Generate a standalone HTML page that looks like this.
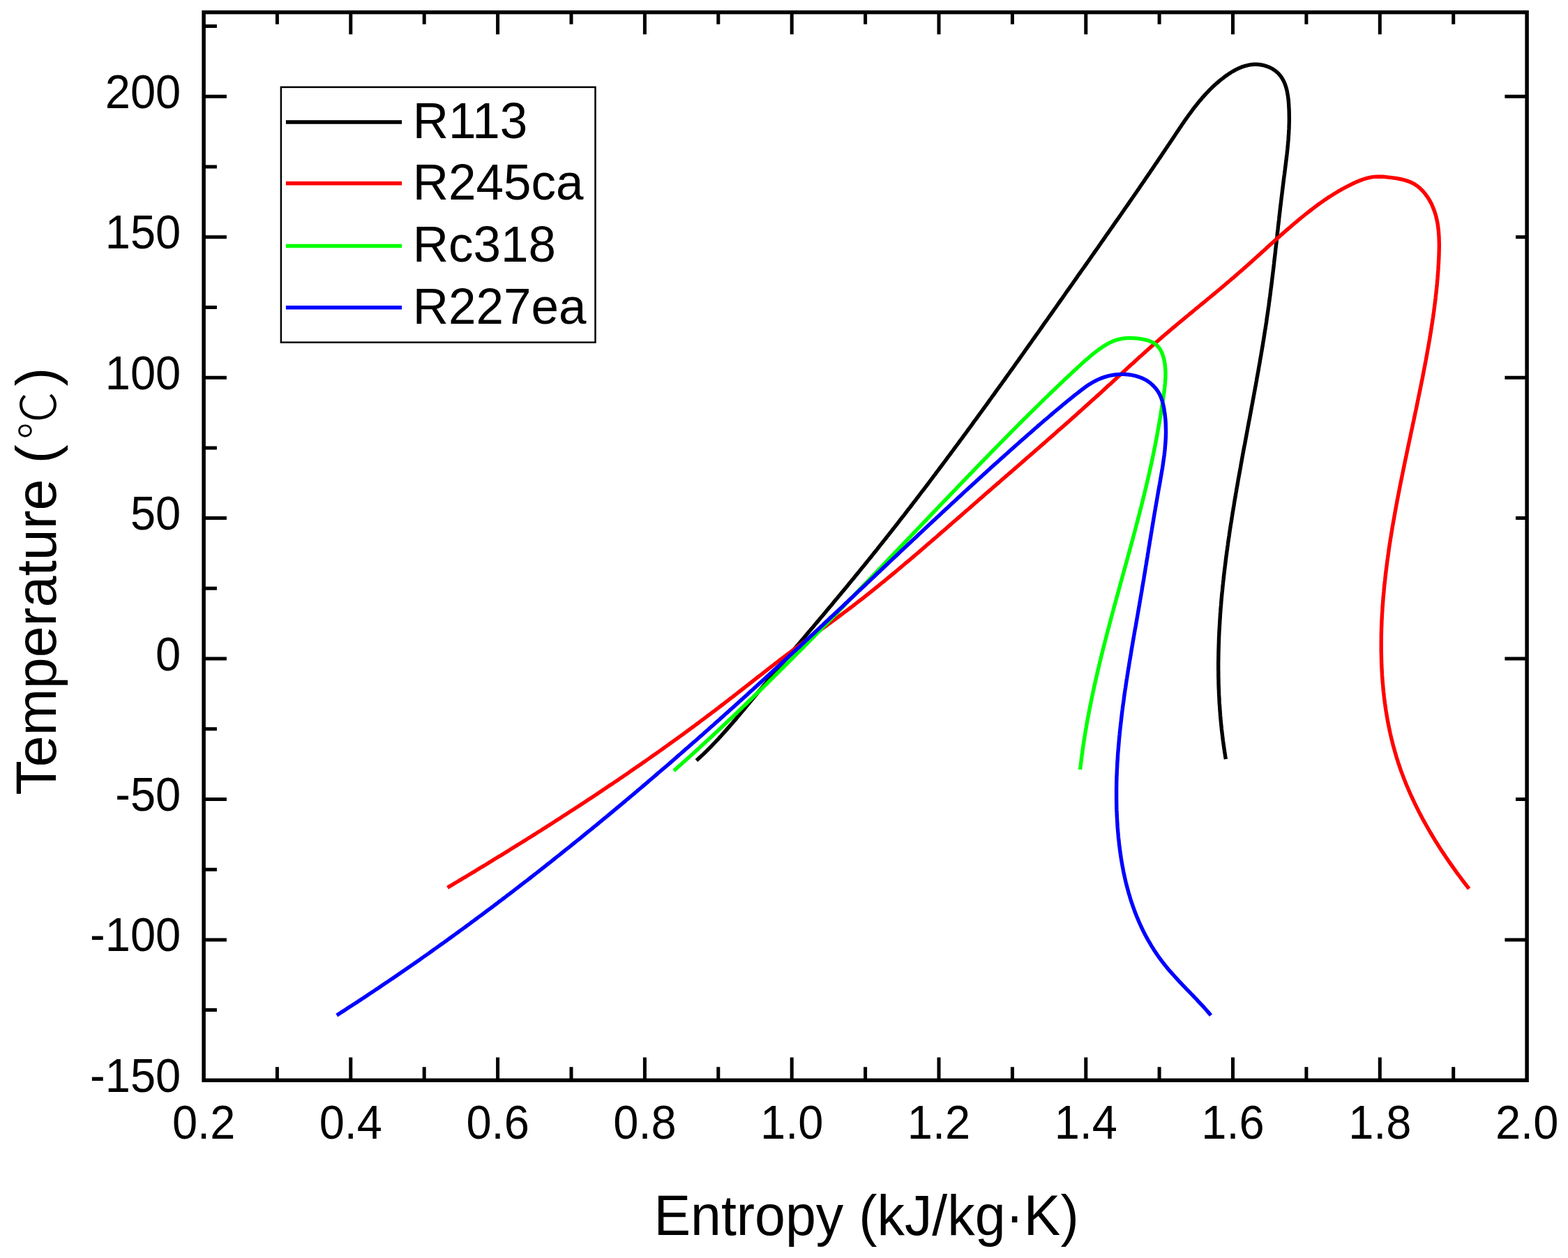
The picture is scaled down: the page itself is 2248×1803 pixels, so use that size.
<!DOCTYPE html><html><head><meta charset="utf-8"><title>T-s diagram</title><style>html,body{margin:0;padding:0;background:#fff;}svg{display:block;}</style></head><body>
<svg width="2248" height="1803" viewBox="0 0 2248 1803">
<rect width="2248" height="1803" fill="#fff"/>
<g fill="none" stroke-width="5.4" stroke-linejoin="round" stroke-linecap="butt">
<path d="M998.4 1090.0 L1000.9 1087.8 L1003.3 1085.5 L1005.8 1083.2 L1008.2 1081.0 L1010.6 1078.7 L1013.0 1076.3 L1015.4 1074.0 L1017.7 1071.6 L1020.0 1069.3 L1022.3 1066.9 L1024.6 1064.5 L1026.9 1062.1 L1029.2 1059.7 L1031.4 1057.2 L1033.7 1054.8 L1035.9 1052.3 L1038.1 1049.9 L1040.3 1047.4 L1042.5 1044.9 L1044.7 1042.4 L1046.9 1039.9 L1049.1 1037.4 L1051.2 1034.9 L1053.4 1032.4 L1055.5 1029.9 L1057.7 1027.3 L1059.8 1024.8 L1061.9 1022.3 L1064.0 1019.7 L1066.2 1017.2 L1068.3 1014.6 L1070.4 1012.1 L1072.5 1009.5 L1074.6 1007.0 L1076.7 1004.4 L1078.9 1001.9 L1081.0 999.3 L1083.1 996.7 L1085.2 994.2 L1087.3 991.6 L1089.5 989.1 L1091.6 986.5 L1093.7 984.0 L1095.8 981.5 L1098.0 978.9 L1100.1 976.4 L1102.2 973.8 L1104.3 971.3 L1106.5 968.7 L1108.6 966.2 L1110.7 963.6 L1112.9 961.1 L1115.0 958.6 L1117.1 956.0 L1119.3 953.5 L1121.4 951.0 L1123.6 948.4 L1125.7 945.9 L1127.8 943.3 L1130.0 940.8 L1132.1 938.3 L1134.3 935.7 L1136.4 933.2 L1138.5 930.7 L1140.7 928.1 L1142.8 925.6 L1145.0 923.0 L1147.1 920.5 L1149.2 918.0 L1151.4 915.4 L1153.5 912.9 L1155.7 910.4 L1157.8 907.8 L1159.9 905.3 L1162.1 902.8 L1164.2 900.2 L1166.4 897.7 L1168.5 895.1 L1170.6 892.6 L1172.8 890.1 L1174.9 887.5 L1177.0 885.0 L1179.2 882.4 L1181.3 879.9 L1183.4 877.4 L1185.6 874.8 L1187.7 872.3 L1189.8 869.7 L1192.0 867.2 L1194.1 864.6 L1196.2 862.1 L1198.3 859.5 L1200.5 857.0 L1202.6 854.4 L1204.7 851.9 L1206.8 849.3 L1209.0 846.8 L1211.1 844.2 L1213.2 841.7 L1215.3 839.1 L1217.4 836.5 L1219.5 834.0 L1221.6 831.4 L1223.7 828.9 L1225.8 826.3 L1227.9 823.7 L1230.0 821.2 L1232.1 818.6 L1234.2 816.0 L1236.3 813.4 L1238.4 810.9 L1240.5 808.3 L1242.6 805.7 L1244.7 803.1 L1246.8 800.6 L1248.9 798.0 L1250.9 795.4 L1253.0 792.8 L1255.1 790.2 L1257.2 787.6 L1259.2 785.0 L1261.3 782.4 L1263.4 779.8 L1265.4 777.2 L1267.5 774.6 L1269.6 772.0 L1271.6 769.4 L1273.7 766.8 L1275.7 764.2 L1277.8 761.6 L1279.8 759.0 L1281.9 756.4 L1283.9 753.8 L1286.0 751.2 L1288.0 748.6 L1290.0 745.9 L1292.1 743.3 L1294.1 740.7 L1296.2 738.1 L1298.2 735.5 L1300.2 732.8 L1302.2 730.2 L1304.3 727.6 L1306.3 725.0 L1308.3 722.3 L1310.3 719.7 L1312.4 717.1 L1314.4 714.4 L1316.4 711.8 L1318.4 709.2 L1320.4 706.5 L1322.4 703.9 L1324.4 701.3 L1326.5 698.6 L1328.5 696.0 L1330.5 693.3 L1332.5 690.7 L1334.5 688.0 L1336.5 685.4 L1338.5 682.7 L1340.5 680.1 L1342.4 677.4 L1344.4 674.8 L1346.4 672.1 L1348.4 669.5 L1350.4 666.8 L1352.4 664.2 L1354.4 661.5 L1356.4 658.8 L1358.3 656.2 L1360.3 653.5 L1362.3 650.8 L1364.3 648.2 L1366.3 645.5 L1368.2 642.9 L1370.2 640.2 L1372.2 637.5 L1374.2 634.8 L1376.1 632.2 L1378.1 629.5 L1380.1 626.8 L1382.0 624.2 L1384.0 621.5 L1386.0 618.8 L1387.9 616.1 L1389.9 613.5 L1391.8 610.8 L1393.8 608.1 L1395.7 605.4 L1397.7 602.7 L1399.7 600.1 L1401.6 597.4 L1403.6 594.7 L1405.5 592.0 L1407.5 589.3 L1409.4 586.6 L1411.4 584.0 L1413.3 581.3 L1415.3 578.6 L1417.2 575.9 L1419.1 573.2 L1421.1 570.5 L1423.0 567.8 L1425.0 565.1 L1426.9 562.4 L1428.9 559.7 L1430.8 557.0 L1432.7 554.4 L1434.7 551.7 L1436.6 549.0 L1438.5 546.3 L1440.5 543.6 L1442.4 540.9 L1444.3 538.2 L1446.3 535.5 L1448.2 532.8 L1450.1 530.1 L1452.1 527.4 L1454.0 524.7 L1455.9 522.0 L1457.8 519.3 L1459.8 516.6 L1461.7 513.9 L1463.6 511.2 L1465.5 508.5 L1467.5 505.8 L1469.4 503.0 L1471.3 500.3 L1473.2 497.6 L1475.1 494.9 L1477.1 492.2 L1479.0 489.5 L1480.9 486.8 L1482.8 484.1 L1484.7 481.4 L1486.7 478.7 L1488.6 476.0 L1490.5 473.3 L1492.4 470.6 L1494.3 467.9 L1496.2 465.1 L1498.1 462.4 L1500.1 459.7 L1502.0 457.0 L1503.9 454.3 L1505.8 451.6 L1507.7 448.9 L1509.6 446.2 L1511.5 443.5 L1513.5 440.7 L1515.4 438.0 L1517.3 435.3 L1519.2 432.6 L1521.1 429.9 L1523.0 427.2 L1524.9 424.5 L1526.8 421.8 L1528.7 419.0 L1530.6 416.3 L1532.6 413.6 L1534.5 410.9 L1536.4 408.2 L1538.3 405.5 L1540.2 402.8 L1542.1 400.1 L1544.0 397.4 L1545.9 394.6 L1547.8 391.9 L1549.7 389.2 L1551.6 386.5 L1553.6 383.8 L1555.5 381.1 L1557.4 378.4 L1559.3 375.7 L1561.2 372.9 L1563.1 370.2 L1565.0 367.5 L1566.9 364.8 L1568.8 362.1 L1570.7 359.4 L1572.6 356.7 L1574.5 353.9 L1576.4 351.2 L1578.3 348.5 L1580.2 345.8 L1582.1 343.1 L1584.0 340.4 L1585.9 337.6 L1587.8 334.9 L1589.7 332.2 L1591.6 329.5 L1593.5 326.8 L1595.4 324.1 L1597.3 321.3 L1599.2 318.6 L1601.1 315.9 L1603.0 313.2 L1604.9 310.4 L1606.8 307.7 L1608.7 305.0 L1610.6 302.3 L1612.5 299.5 L1614.4 296.8 L1616.3 294.1 L1618.2 291.4 L1620.1 288.6 L1621.9 285.9 L1623.8 283.2 L1625.7 280.4 L1627.6 277.7 L1629.5 275.0 L1631.4 272.2 L1633.3 269.5 L1635.1 266.8 L1637.0 264.0 L1638.9 261.3 L1640.8 258.6 L1642.6 255.8 L1644.5 253.1 L1646.4 250.3 L1648.3 247.6 L1650.1 244.8 L1652.0 242.1 L1653.9 239.3 L1655.7 236.6 L1657.6 233.8 L1659.5 231.1 L1661.3 228.3 L1663.2 225.6 L1665.1 222.8 L1666.9 220.1 L1668.8 217.3 L1670.6 214.5 L1672.5 211.8 L1674.3 209.0 L1676.2 206.3 L1678.0 203.5 L1679.9 200.7 L1681.7 198.0 L1683.6 195.2 L1685.4 192.4 L1687.3 189.6 L1689.1 186.9 L1691.0 184.1 L1692.8 181.4 L1694.7 178.6 L1696.6 175.9 L1698.5 173.1 L1700.4 170.4 L1702.3 167.7 L1704.2 165.0 L1706.2 162.3 L1708.2 159.7 L1710.1 157.0 L1712.1 154.4 L1714.2 151.8 L1716.2 149.2 L1718.3 146.6 L1720.4 144.1 L1722.6 141.6 L1724.7 139.1 L1726.9 136.6 L1729.1 134.2 L1731.4 131.8 L1733.7 129.4 L1736.0 127.1 L1738.4 124.8 L1740.8 122.5 L1743.3 120.3 L1745.8 118.1 L1748.3 115.9 L1750.9 113.8 L1753.6 111.8 L1756.2 109.7 L1759.0 107.8 L1761.7 105.9 L1764.6 104.0 L1767.4 102.3 L1770.4 100.6 L1773.3 99.1 L1776.3 97.7 L1779.4 96.4 L1782.4 95.3 L1785.6 94.3 L1788.7 93.6 L1791.9 92.9 L1795.1 92.5 L1798.4 92.3 L1801.7 92.3 L1805.0 92.5 L1808.3 93.0 L1811.6 93.7 L1814.9 94.6 L1818.1 95.7 L1821.2 97.0 L1824.1 98.6 L1826.9 100.4 L1829.5 102.4 L1832.0 104.5 L1834.2 106.9 L1836.2 109.4 L1838.0 112.0 L1839.6 114.8 L1841.0 117.6 L1842.2 120.6 L1843.3 123.7 L1844.3 126.9 L1845.1 130.1 L1845.7 133.4 L1846.3 136.8 L1846.8 140.2 L1847.2 143.6 L1847.5 147.1 L1847.7 150.5 L1847.9 154.0 L1848.1 157.4 L1848.2 160.8 L1848.2 164.2 L1848.3 167.6 L1848.3 171.0 L1848.3 174.4 L1848.2 177.7 L1848.1 181.1 L1848.0 184.4 L1847.8 187.7 L1847.7 191.0 L1847.4 194.3 L1847.2 197.6 L1847.0 200.9 L1846.7 204.2 L1846.4 207.4 L1846.1 210.7 L1845.8 214.0 L1845.4 217.2 L1845.1 220.5 L1844.7 223.7 L1844.3 227.0 L1843.9 230.2 L1843.5 233.4 L1843.1 236.7 L1842.7 239.9 L1842.3 243.2 L1841.9 246.4 L1841.5 249.6 L1841.0 252.9 L1840.6 256.1 L1840.2 259.4 L1839.8 262.6 L1839.4 265.9 L1839.0 269.1 L1838.6 272.4 L1838.2 275.7 L1837.8 278.9 L1837.4 282.2 L1837.0 285.5 L1836.6 288.8 L1836.2 292.1 L1835.8 295.3 L1835.4 298.6 L1835.1 301.9 L1834.7 305.2 L1834.3 308.5 L1833.9 311.8 L1833.6 315.1 L1833.2 318.4 L1832.8 321.7 L1832.4 325.0 L1832.1 328.3 L1831.7 331.6 L1831.3 334.9 L1831.0 338.3 L1830.6 341.6 L1830.2 344.9 L1829.9 348.2 L1829.5 351.5 L1829.1 354.8 L1828.7 358.1 L1828.4 361.4 L1828.0 364.8 L1827.6 368.1 L1827.2 371.4 L1826.8 374.7 L1826.5 378.0 L1826.1 381.4 L1825.7 384.7 L1825.3 388.0 L1824.9 391.3 L1824.5 394.6 L1824.1 397.9 L1823.7 401.2 L1823.3 404.6 L1822.9 407.9 L1822.5 411.2 L1822.0 414.5 L1821.6 417.8 L1821.2 421.1 L1820.8 424.4 L1820.3 427.7 L1819.9 431.0 L1819.4 434.3 L1819.0 437.6 L1818.5 440.9 L1818.1 444.2 L1817.6 447.5 L1817.1 450.7 L1816.6 454.0 L1816.1 457.3 L1815.7 460.6 L1815.2 463.9 L1814.7 467.1 L1814.2 470.4 L1813.6 473.7 L1813.1 477.0 L1812.6 480.2 L1812.1 483.5 L1811.6 486.8 L1811.0 490.0 L1810.5 493.3 L1810.0 496.6 L1809.4 499.8 L1808.9 503.1 L1808.3 506.3 L1807.8 509.6 L1807.2 512.8 L1806.6 516.1 L1806.1 519.4 L1805.5 522.6 L1804.9 525.9 L1804.4 529.1 L1803.8 532.4 L1803.2 535.6 L1802.6 538.9 L1802.0 542.1 L1801.5 545.4 L1800.9 548.6 L1800.3 551.9 L1799.7 555.1 L1799.1 558.4 L1798.5 561.6 L1797.9 564.9 L1797.3 568.1 L1796.7 571.4 L1796.1 574.6 L1795.5 577.9 L1794.9 581.1 L1794.3 584.4 L1793.7 587.6 L1793.1 590.9 L1792.5 594.1 L1791.9 597.4 L1791.3 600.6 L1790.6 603.9 L1790.0 607.2 L1789.4 610.4 L1788.8 613.7 L1788.2 616.9 L1787.6 620.2 L1787.0 623.5 L1786.4 626.7 L1785.8 630.0 L1785.2 633.2 L1784.6 636.5 L1783.9 639.8 L1783.3 643.0 L1782.7 646.3 L1782.1 649.6 L1781.5 652.8 L1780.9 656.1 L1780.3 659.4 L1779.7 662.7 L1779.1 665.9 L1778.6 669.2 L1778.0 672.5 L1777.4 675.7 L1776.8 679.0 L1776.2 682.3 L1775.6 685.6 L1775.0 688.8 L1774.5 692.1 L1773.9 695.4 L1773.3 698.7 L1772.7 702.0 L1772.2 705.2 L1771.6 708.5 L1771.1 711.8 L1770.5 715.1 L1769.9 718.4 L1769.4 721.6 L1768.9 724.9 L1768.3 728.2 L1767.8 731.5 L1767.2 734.8 L1766.7 738.1 L1766.2 741.3 L1765.7 744.6 L1765.2 747.9 L1764.6 751.2 L1764.1 754.5 L1763.6 757.8 L1763.1 761.1 L1762.6 764.4 L1762.2 767.6 L1761.7 770.9 L1761.2 774.2 L1760.7 777.5 L1760.3 780.8 L1759.8 784.1 L1759.4 787.4 L1758.9 790.7 L1758.5 794.0 L1758.0 797.3 L1757.6 800.6 L1757.2 803.9 L1756.8 807.2 L1756.4 810.5 L1756.0 813.8 L1755.6 817.0 L1755.2 820.3 L1754.8 823.6 L1754.4 826.9 L1754.1 830.2 L1753.7 833.5 L1753.4 836.8 L1753.0 840.1 L1752.7 843.4 L1752.4 846.7 L1752.0 850.0 L1751.7 853.3 L1751.4 856.6 L1751.1 859.9 L1750.8 863.2 L1750.6 866.5 L1750.3 869.8 L1750.0 873.1 L1749.8 876.4 L1749.5 879.7 L1749.3 883.0 L1749.1 886.4 L1748.9 889.7 L1748.7 893.0 L1748.5 896.3 L1748.3 899.6 L1748.1 902.9 L1747.9 906.2 L1747.8 909.5 L1747.6 912.8 L1747.5 916.1 L1747.4 919.4 L1747.3 922.7 L1747.2 926.0 L1747.1 929.3 L1747.0 932.6 L1746.9 935.9 L1746.9 939.2 L1746.8 942.5 L1746.8 945.8 L1746.7 949.1 L1746.7 952.5 L1746.7 955.8 L1746.7 959.1 L1746.8 962.4 L1746.8 965.7 L1746.8 969.0 L1746.9 972.3 L1747.0 975.6 L1747.0 978.9 L1747.1 982.2 L1747.2 985.5 L1747.4 988.8 L1747.5 992.1 L1747.6 995.4 L1747.8 998.7 L1748.0 1002.1 L1748.1 1005.4 L1748.3 1008.7 L1748.6 1012.0 L1748.8 1015.3 L1749.0 1018.6 L1749.3 1021.9 L1749.5 1025.2 L1749.8 1028.5 L1750.1 1031.8 L1750.4 1035.1 L1750.7 1038.4 L1751.1 1041.7 L1751.4 1045.0 L1751.8 1048.3 L1752.2 1051.7 L1752.6 1055.0 L1753.0 1058.3 L1753.4 1061.6 L1753.9 1064.9 L1754.3 1068.2 L1754.8 1071.5 L1755.3 1074.8 L1755.8 1078.1 L1756.3 1081.4 L1756.8 1084.7 L1757.4 1088.0" stroke="#000"/>
<path d="M641.5 1272.2 L644.9 1270.1 L648.4 1268.1 L651.8 1266.0 L655.2 1264.0 L658.7 1261.9 L662.1 1259.9 L665.5 1257.8 L669.0 1255.8 L672.4 1253.7 L675.8 1251.6 L679.3 1249.6 L682.7 1247.5 L686.1 1245.4 L689.5 1243.3 L692.9 1241.3 L696.4 1239.2 L699.8 1237.1 L703.2 1235.0 L706.6 1232.9 L710.0 1230.8 L713.4 1228.7 L716.9 1226.7 L720.3 1224.6 L723.7 1222.5 L727.1 1220.4 L730.5 1218.3 L733.9 1216.1 L737.3 1214.0 L740.7 1211.9 L744.1 1209.8 L747.5 1207.7 L750.9 1205.6 L754.3 1203.5 L757.7 1201.3 L761.1 1199.2 L764.4 1197.1 L767.8 1194.9 L771.2 1192.8 L774.6 1190.7 L778.0 1188.5 L781.4 1186.4 L784.7 1184.2 L788.1 1182.1 L791.5 1179.9 L794.9 1177.8 L798.2 1175.6 L801.6 1173.5 L805.0 1171.3 L808.3 1169.1 L811.7 1166.9 L815.0 1164.8 L818.4 1162.6 L821.7 1160.4 L825.1 1158.2 L828.5 1156.0 L831.8 1153.9 L835.1 1151.7 L838.5 1149.5 L841.8 1147.3 L845.2 1145.1 L848.5 1142.9 L851.8 1140.7 L855.2 1138.4 L858.5 1136.2 L861.8 1134.0 L865.2 1131.8 L868.5 1129.6 L871.8 1127.3 L875.1 1125.1 L878.5 1122.9 L881.8 1120.6 L885.1 1118.4 L888.4 1116.1 L891.7 1113.9 L895.0 1111.6 L898.3 1109.4 L901.6 1107.1 L904.9 1104.8 L908.2 1102.6 L911.5 1100.3 L914.8 1098.0 L918.1 1095.8 L921.3 1093.5 L924.6 1091.2 L927.9 1088.9 L931.2 1086.6 L934.4 1084.3 L937.7 1082.0 L941.0 1079.7 L944.3 1077.4 L947.5 1075.1 L950.8 1072.7 L954.0 1070.4 L957.3 1068.1 L960.5 1065.8 L963.8 1063.4 L967.0 1061.1 L970.3 1058.8 L973.5 1056.4 L976.7 1054.1 L980.0 1051.7 L983.2 1049.3 L986.4 1047.0 L989.6 1044.6 L992.9 1042.2 L996.1 1039.9 L999.3 1037.5 L1002.5 1035.1 L1005.7 1032.7 L1008.9 1030.3 L1012.1 1027.9 L1015.3 1025.5 L1018.5 1023.1 L1021.7 1020.7 L1024.9 1018.3 L1028.1 1015.9 L1031.3 1013.4 L1034.4 1011.0 L1037.6 1008.6 L1040.8 1006.1 L1044.0 1003.7 L1047.1 1001.2 L1050.3 998.8 L1053.4 996.3 L1056.6 993.9 L1059.8 991.4 L1062.9 989.0 L1066.1 986.5 L1069.2 984.0 L1072.4 981.6 L1075.5 979.1 L1078.7 976.6 L1081.8 974.2 L1085.0 971.7 L1088.1 969.2 L1091.3 966.8 L1094.4 964.3 L1097.6 961.9 L1100.7 959.4 L1103.9 956.9 L1107.1 954.5 L1110.2 952.0 L1113.4 949.6 L1116.6 947.2 L1119.7 944.7 L1122.9 942.3 L1126.1 939.9 L1129.3 937.5 L1132.5 935.1 L1135.7 932.6 L1138.9 930.3 L1142.1 927.9 L1145.3 925.5 L1148.5 923.1 L1151.7 920.7 L1155.0 918.4 L1158.2 916.0 L1161.4 913.7 L1164.7 911.3 L1167.9 909.0 L1171.1 906.6 L1174.4 904.3 L1177.6 901.9 L1180.8 899.6 L1184.1 897.2 L1187.3 894.9 L1190.5 892.5 L1193.8 890.1 L1197.0 887.8 L1200.2 885.4 L1203.4 883.0 L1206.6 880.6 L1209.8 878.2 L1213.0 875.8 L1216.2 873.4 L1219.4 871.0 L1222.6 868.6 L1225.7 866.1 L1228.9 863.7 L1232.1 861.2 L1235.2 858.8 L1238.4 856.3 L1241.5 853.8 L1244.6 851.4 L1247.8 848.9 L1250.9 846.4 L1254.0 843.9 L1257.1 841.4 L1260.2 838.9 L1263.3 836.3 L1266.4 833.8 L1269.5 831.3 L1272.6 828.7 L1275.7 826.2 L1278.8 823.6 L1281.9 821.1 L1285.0 818.5 L1288.0 816.0 L1291.1 813.4 L1294.2 810.8 L1297.2 808.2 L1300.3 805.7 L1303.4 803.1 L1306.4 800.5 L1309.5 797.9 L1312.5 795.3 L1315.6 792.7 L1318.6 790.1 L1321.6 787.5 L1324.7 784.9 L1327.7 782.3 L1330.7 779.6 L1333.8 777.0 L1336.8 774.4 L1339.8 771.8 L1342.9 769.2 L1345.9 766.5 L1348.9 763.9 L1351.9 761.3 L1355.0 758.7 L1358.0 756.0 L1361.0 753.4 L1364.0 750.8 L1367.0 748.1 L1370.1 745.5 L1373.1 742.9 L1376.1 740.2 L1379.1 737.6 L1382.1 735.0 L1385.1 732.3 L1388.2 729.7 L1391.2 727.1 L1394.2 724.4 L1397.2 721.8 L1400.2 719.2 L1403.2 716.5 L1406.3 713.9 L1409.3 711.3 L1412.3 708.6 L1415.3 706.0 L1418.3 703.4 L1421.4 700.8 L1424.4 698.1 L1427.4 695.5 L1430.4 692.9 L1433.5 690.3 L1436.5 687.6 L1439.5 685.0 L1442.5 682.4 L1445.5 679.8 L1448.6 677.1 L1451.6 674.5 L1454.6 671.9 L1457.6 669.3 L1460.6 666.7 L1463.7 664.0 L1466.7 661.4 L1469.7 658.8 L1472.7 656.1 L1475.7 653.5 L1478.7 650.9 L1481.8 648.3 L1484.8 645.6 L1487.8 643.0 L1490.8 640.4 L1493.8 637.7 L1496.8 635.1 L1499.8 632.5 L1502.8 629.8 L1505.8 627.2 L1508.8 624.6 L1511.8 621.9 L1514.8 619.3 L1517.8 616.6 L1520.8 614.0 L1523.8 611.4 L1526.8 608.7 L1529.8 606.1 L1532.8 603.4 L1535.8 600.7 L1538.8 598.1 L1541.8 595.4 L1544.8 592.8 L1547.7 590.1 L1550.7 587.5 L1553.7 584.8 L1556.7 582.1 L1559.6 579.4 L1562.6 576.8 L1565.6 574.1 L1568.5 571.4 L1571.5 568.7 L1574.5 566.1 L1577.4 563.4 L1580.4 560.7 L1583.3 558.0 L1586.3 555.3 L1589.2 552.6 L1592.2 549.9 L1595.1 547.2 L1598.1 544.5 L1601.0 541.8 L1603.9 539.1 L1606.9 536.4 L1609.8 533.7 L1612.8 531.0 L1615.7 528.3 L1618.7 525.5 L1621.6 522.8 L1624.6 520.2 L1627.5 517.5 L1630.5 514.8 L1633.4 512.1 L1636.4 509.4 L1639.4 506.7 L1642.4 504.1 L1645.3 501.4 L1648.3 498.7 L1651.3 496.1 L1654.3 493.4 L1657.3 490.8 L1660.4 488.2 L1663.4 485.5 L1666.4 482.9 L1669.5 480.3 L1672.5 477.7 L1675.6 475.1 L1678.6 472.5 L1681.7 469.9 L1684.8 467.4 L1687.8 464.8 L1690.9 462.2 L1694.0 459.7 L1697.1 457.1 L1700.2 454.5 L1703.3 452.0 L1706.4 449.4 L1709.5 446.9 L1712.6 444.3 L1715.6 441.8 L1718.7 439.2 L1721.8 436.7 L1724.9 434.1 L1728.0 431.6 L1731.1 429.0 L1734.2 426.5 L1737.3 423.9 L1740.4 421.4 L1743.5 418.8 L1746.6 416.2 L1749.6 413.7 L1752.7 411.1 L1755.8 408.5 L1758.8 405.9 L1761.9 403.3 L1764.9 400.7 L1768.0 398.2 L1771.0 395.5 L1774.0 392.9 L1777.0 390.3 L1780.0 387.7 L1783.0 385.0 L1786.0 382.4 L1789.0 379.7 L1792.0 377.1 L1794.9 374.4 L1797.9 371.8 L1800.9 369.1 L1803.8 366.4 L1806.8 363.7 L1809.7 361.1 L1812.7 358.4 L1815.6 355.7 L1818.6 353.0 L1821.6 350.3 L1824.5 347.7 L1827.5 345.0 L1830.5 342.3 L1833.4 339.7 L1836.4 337.0 L1839.4 334.4 L1842.4 331.7 L1845.4 329.1 L1848.5 326.5 L1851.5 323.9 L1854.5 321.3 L1857.6 318.7 L1860.7 316.1 L1863.8 313.5 L1866.9 311.0 L1870.0 308.5 L1873.1 306.0 L1876.3 303.5 L1879.5 301.0 L1882.7 298.6 L1885.9 296.1 L1889.1 293.8 L1892.4 291.4 L1895.6 289.1 L1898.9 286.8 L1902.3 284.5 L1905.6 282.3 L1909.0 280.2 L1912.4 278.0 L1915.8 276.0 L1919.2 273.9 L1922.7 271.9 L1926.2 270.0 L1929.7 268.1 L1933.2 266.3 L1936.8 264.5 L1940.4 262.8 L1944.0 261.1 L1947.7 259.5 L1951.4 258.1 L1955.1 256.8 L1958.9 255.6 L1962.7 254.6 L1966.6 253.9 L1970.5 253.4 L1974.5 253.2 L1978.5 253.2 L1982.5 253.3 L1986.6 253.6 L1990.6 254.1 L1994.7 254.6 L1998.8 255.1 L2002.8 255.7 L2006.8 256.5 L2010.8 257.3 L2014.7 258.4 L2018.4 259.6 L2022.1 261.0 L2025.7 262.7 L2029.1 264.7 L2032.3 266.9 L2035.4 269.4 L2038.3 272.2 L2041.0 275.1 L2043.6 278.3 L2046.0 281.6 L2048.2 284.9 L2050.2 288.4 L2052.1 291.9 L2053.7 295.5 L2055.2 299.2 L2056.6 302.9 L2057.8 306.6 L2058.9 310.4 L2059.8 314.3 L2060.6 318.1 L2061.3 322.0 L2061.8 326.0 L2062.3 330.0 L2062.6 334.0 L2062.9 338.0 L2063.1 342.0 L2063.2 346.1 L2063.3 350.1 L2063.3 354.2 L2063.2 358.3 L2063.1 362.3 L2063.0 366.4 L2062.8 370.5 L2062.6 374.5 L2062.4 378.6 L2062.1 382.6 L2061.9 386.7 L2061.6 390.7 L2061.3 394.7 L2061.0 398.7 L2060.6 402.7 L2060.3 406.7 L2059.9 410.7 L2059.5 414.7 L2059.1 418.7 L2058.6 422.6 L2058.2 426.6 L2057.7 430.6 L2057.2 434.5 L2056.7 438.5 L2056.2 442.4 L2055.7 446.4 L2055.1 450.3 L2054.6 454.3 L2054.0 458.2 L2053.4 462.1 L2052.8 466.1 L2052.2 470.0 L2051.6 473.9 L2051.0 477.8 L2050.3 481.7 L2049.7 485.7 L2049.0 489.6 L2048.3 493.5 L2047.6 497.4 L2046.9 501.3 L2046.2 505.2 L2045.5 509.2 L2044.8 513.1 L2044.1 517.0 L2043.3 520.9 L2042.6 524.8 L2041.8 528.7 L2041.1 532.6 L2040.3 536.6 L2039.6 540.5 L2038.8 544.4 L2038.0 548.3 L2037.2 552.2 L2036.4 556.1 L2035.6 560.1 L2034.8 564.0 L2034.0 567.9 L2033.2 571.8 L2032.4 575.7 L2031.6 579.6 L2030.8 583.6 L2030.0 587.5 L2029.1 591.4 L2028.3 595.3 L2027.5 599.2 L2026.7 603.2 L2025.8 607.1 L2025.0 611.0 L2024.2 614.9 L2023.3 618.8 L2022.5 622.8 L2021.7 626.7 L2020.8 630.6 L2020.0 634.5 L2019.2 638.4 L2018.3 642.4 L2017.5 646.3 L2016.7 650.2 L2015.9 654.1 L2015.0 658.1 L2014.2 662.0 L2013.4 665.9 L2012.6 669.9 L2011.8 673.8 L2011.0 677.7 L2010.2 681.7 L2009.4 685.6 L2008.6 689.5 L2007.8 693.5 L2007.0 697.4 L2006.3 701.3 L2005.5 705.3 L2004.7 709.2 L2004.0 713.1 L2003.2 717.1 L2002.5 721.0 L2001.7 725.0 L2001.0 728.9 L2000.3 732.8 L1999.6 736.8 L1998.9 740.7 L1998.2 744.7 L1997.5 748.6 L1996.8 752.6 L1996.1 756.5 L1995.5 760.5 L1994.8 764.4 L1994.2 768.4 L1993.5 772.3 L1992.9 776.3 L1992.3 780.3 L1991.7 784.2 L1991.1 788.2 L1990.6 792.1 L1990.0 796.1 L1989.5 800.1 L1988.9 804.0 L1988.4 808.0 L1987.9 812.0 L1987.4 815.9 L1986.9 819.9 L1986.4 823.9 L1986.0 827.9 L1985.6 831.8 L1985.1 835.8 L1984.7 839.8 L1984.3 843.8 L1984.0 847.8 L1983.6 851.8 L1983.2 855.7 L1982.9 859.7 L1982.6 863.7 L1982.3 867.7 L1982.0 871.7 L1981.8 875.7 L1981.5 879.7 L1981.3 883.7 L1981.1 887.7 L1980.9 891.7 L1980.8 895.7 L1980.6 899.7 L1980.5 903.7 L1980.4 907.7 L1980.3 911.7 L1980.3 915.7 L1980.2 919.7 L1980.2 923.7 L1980.2 927.7 L1980.2 931.7 L1980.3 935.7 L1980.4 939.7 L1980.5 943.7 L1980.6 947.7 L1980.7 951.7 L1980.9 955.7 L1981.1 959.7 L1981.3 963.7 L1981.5 967.7 L1981.8 971.7 L1982.1 975.6 L1982.4 979.6 L1982.8 983.6 L1983.1 987.6 L1983.5 991.5 L1984.0 995.5 L1984.4 999.5 L1984.9 1003.4 L1985.4 1007.4 L1986.0 1011.3 L1986.5 1015.2 L1987.1 1019.2 L1987.8 1023.1 L1988.4 1027.0 L1989.1 1031.0 L1989.8 1034.9 L1990.6 1038.8 L1991.4 1042.7 L1992.2 1046.6 L1993.0 1050.5 L1993.9 1054.3 L1994.8 1058.2 L1995.8 1062.1 L1996.7 1065.9 L1997.7 1069.8 L1998.8 1073.6 L1999.9 1077.5 L2001.0 1081.3 L2002.1 1085.1 L2003.3 1088.9 L2004.5 1092.8 L2005.8 1096.5 L2007.1 1100.3 L2008.4 1104.1 L2009.8 1107.9 L2011.2 1111.6 L2012.6 1115.4 L2014.1 1119.1 L2015.6 1122.9 L2017.1 1126.6 L2018.7 1130.3 L2020.3 1134.0 L2021.9 1137.7 L2023.6 1141.3 L2025.3 1145.0 L2027.0 1148.6 L2028.7 1152.3 L2030.5 1155.9 L2032.3 1159.5 L2034.1 1163.1 L2036.0 1166.7 L2037.9 1170.3 L2039.8 1173.9 L2041.7 1177.4 L2043.7 1181.0 L2045.7 1184.5 L2047.7 1188.0 L2049.7 1191.5 L2051.8 1195.0 L2053.8 1198.4 L2055.9 1201.9 L2058.0 1205.3 L2060.2 1208.8 L2062.3 1212.2 L2064.5 1215.6 L2066.7 1218.9 L2068.9 1222.3 L2071.1 1225.6 L2073.4 1229.0 L2075.6 1232.3 L2077.9 1235.6 L2080.2 1238.9 L2082.5 1242.1 L2084.8 1245.4 L2087.1 1248.6 L2089.4 1251.8 L2091.8 1255.0 L2094.2 1258.2 L2096.5 1261.4 L2098.9 1264.5 L2101.3 1267.6 L2103.7 1270.7 L2106.1 1273.8" stroke="#f00"/>
<path d="M966.0 1104.8 L967.7 1103.3 L969.4 1101.8 L971.0 1100.3 L972.7 1098.8 L974.4 1097.3 L976.1 1095.8 L977.8 1094.3 L979.4 1092.8 L981.1 1091.3 L982.8 1089.8 L984.5 1088.3 L986.1 1086.8 L987.8 1085.3 L989.5 1083.8 L991.1 1082.3 L992.8 1080.7 L994.5 1079.2 L996.1 1077.7 L997.8 1076.2 L999.5 1074.7 L1001.1 1073.2 L1002.8 1071.6 L1004.4 1070.1 L1006.1 1068.6 L1007.8 1067.1 L1009.4 1065.6 L1011.1 1064.0 L1012.7 1062.5 L1014.4 1061.0 L1016.0 1059.5 L1017.7 1057.9 L1019.3 1056.4 L1021.0 1054.9 L1022.6 1053.3 L1024.3 1051.8 L1025.9 1050.3 L1027.6 1048.7 L1029.2 1047.2 L1030.8 1045.7 L1032.5 1044.1 L1034.1 1042.6 L1035.8 1041.0 L1037.4 1039.5 L1039.0 1038.0 L1040.7 1036.4 L1042.3 1034.9 L1043.9 1033.3 L1045.6 1031.8 L1047.2 1030.2 L1048.8 1028.7 L1050.5 1027.1 L1052.1 1025.6 L1053.7 1024.0 L1055.4 1022.5 L1057.0 1020.9 L1058.6 1019.4 L1060.2 1017.8 L1061.9 1016.3 L1063.5 1014.7 L1065.1 1013.1 L1066.7 1011.6 L1068.4 1010.0 L1070.0 1008.5 L1071.6 1006.9 L1073.2 1005.3 L1074.8 1003.8 L1076.4 1002.2 L1078.1 1000.7 L1079.7 999.1 L1081.3 997.5 L1082.9 996.0 L1084.5 994.4 L1086.1 992.8 L1087.7 991.3 L1089.3 989.7 L1091.0 988.1 L1092.6 986.5 L1094.2 985.0 L1095.8 983.4 L1097.4 981.8 L1099.0 980.2 L1100.6 978.7 L1102.2 977.1 L1103.8 975.5 L1105.4 973.9 L1107.0 972.4 L1108.6 970.8 L1110.2 969.2 L1111.8 967.6 L1113.4 966.0 L1115.0 964.4 L1116.6 962.9 L1118.2 961.3 L1119.8 959.7 L1121.4 958.1 L1123.0 956.5 L1124.6 954.9 L1126.2 953.4 L1127.7 951.8 L1129.3 950.2 L1130.9 948.6 L1132.5 947.0 L1134.1 945.4 L1135.7 943.8 L1137.3 942.2 L1138.9 940.6 L1140.5 939.0 L1142.0 937.4 L1143.6 935.8 L1145.2 934.2 L1146.8 932.7 L1148.4 931.1 L1150.0 929.5 L1151.6 927.9 L1153.1 926.3 L1154.7 924.7 L1156.3 923.1 L1157.9 921.5 L1159.5 919.9 L1161.0 918.3 L1162.6 916.7 L1164.2 915.1 L1165.8 913.5 L1167.4 911.9 L1168.9 910.2 L1170.5 908.6 L1172.1 907.0 L1173.7 905.4 L1175.2 903.8 L1176.8 902.2 L1178.4 900.6 L1180.0 899.0 L1181.5 897.4 L1183.1 895.8 L1184.7 894.2 L1186.2 892.6 L1187.8 891.0 L1189.4 889.4 L1191.0 887.7 L1192.5 886.1 L1194.1 884.5 L1195.7 882.9 L1197.2 881.3 L1198.8 879.7 L1200.4 878.1 L1201.9 876.5 L1203.5 874.8 L1205.1 873.2 L1206.6 871.6 L1208.2 870.0 L1209.8 868.4 L1211.3 866.8 L1212.9 865.2 L1214.5 863.5 L1216.0 861.9 L1217.6 860.3 L1219.1 858.7 L1220.7 857.1 L1222.3 855.4 L1223.8 853.8 L1225.4 852.2 L1227.0 850.6 L1228.5 849.0 L1230.1 847.4 L1231.6 845.7 L1233.2 844.1 L1234.8 842.5 L1236.3 840.9 L1237.9 839.2 L1239.4 837.6 L1241.0 836.0 L1242.6 834.4 L1244.1 832.8 L1245.7 831.1 L1247.2 829.5 L1248.8 827.9 L1250.3 826.3 L1251.9 824.6 L1253.5 823.0 L1255.0 821.4 L1256.6 819.8 L1258.1 818.1 L1259.7 816.5 L1261.2 814.9 L1262.8 813.3 L1264.4 811.7 L1265.9 810.0 L1267.5 808.4 L1269.0 806.8 L1270.6 805.1 L1272.1 803.5 L1273.7 801.9 L1275.2 800.3 L1276.8 798.6 L1278.3 797.0 L1279.9 795.4 L1281.5 793.8 L1283.0 792.1 L1284.6 790.5 L1286.1 788.9 L1287.7 787.3 L1289.2 785.6 L1290.8 784.0 L1292.3 782.4 L1293.9 780.8 L1295.4 779.1 L1297.0 777.5 L1298.6 775.9 L1300.1 774.2 L1301.7 772.6 L1303.2 771.0 L1304.8 769.4 L1306.3 767.7 L1307.9 766.1 L1309.4 764.5 L1311.0 762.9 L1312.5 761.2 L1314.1 759.6 L1315.6 758.0 L1317.2 756.3 L1318.7 754.7 L1320.3 753.1 L1321.9 751.5 L1323.4 749.8 L1325.0 748.2 L1326.5 746.6 L1328.1 745.0 L1329.6 743.3 L1331.2 741.7 L1332.7 740.1 L1334.3 738.5 L1335.8 736.8 L1337.4 735.2 L1338.9 733.6 L1340.5 731.9 L1342.1 730.3 L1343.6 728.7 L1345.2 727.1 L1346.7 725.4 L1348.3 723.8 L1349.8 722.2 L1351.4 720.6 L1352.9 718.9 L1354.5 717.3 L1356.0 715.7 L1357.6 714.1 L1359.2 712.4 L1360.7 710.8 L1362.3 709.2 L1363.8 707.6 L1365.4 705.9 L1366.9 704.3 L1368.5 702.7 L1370.1 701.1 L1371.6 699.5 L1373.2 697.8 L1374.7 696.2 L1376.3 694.6 L1377.8 693.0 L1379.4 691.3 L1381.0 689.7 L1382.5 688.1 L1384.1 686.5 L1385.6 684.9 L1387.2 683.2 L1388.8 681.6 L1390.3 680.0 L1391.9 678.4 L1393.5 676.8 L1395.0 675.2 L1396.6 673.5 L1398.1 671.9 L1399.7 670.3 L1401.3 668.7 L1402.8 667.1 L1404.4 665.5 L1406.0 663.8 L1407.5 662.2 L1409.1 660.6 L1410.7 659.0 L1412.2 657.4 L1413.8 655.8 L1415.4 654.2 L1416.9 652.6 L1418.5 650.9 L1420.1 649.3 L1421.6 647.7 L1423.2 646.1 L1424.8 644.5 L1426.4 642.9 L1427.9 641.3 L1429.5 639.7 L1431.1 638.1 L1432.7 636.5 L1434.2 634.9 L1435.8 633.3 L1437.4 631.7 L1439.0 630.1 L1440.5 628.5 L1442.1 626.9 L1443.7 625.3 L1445.3 623.7 L1446.9 622.1 L1448.4 620.5 L1450.0 618.9 L1451.6 617.3 L1453.2 615.7 L1454.8 614.1 L1456.4 612.5 L1457.9 610.9 L1459.5 609.3 L1461.1 607.7 L1462.7 606.1 L1464.3 604.5 L1465.9 602.9 L1467.5 601.3 L1469.1 599.8 L1470.7 598.2 L1472.3 596.6 L1473.9 595.0 L1475.5 593.4 L1477.1 591.8 L1478.7 590.3 L1480.3 588.7 L1481.9 587.1 L1483.5 585.5 L1485.1 583.9 L1486.7 582.4 L1488.3 580.8 L1489.9 579.2 L1491.5 577.6 L1493.1 576.1 L1494.7 574.5 L1496.3 572.9 L1497.9 571.4 L1499.6 569.8 L1501.2 568.2 L1502.8 566.7 L1504.4 565.1 L1506.0 563.5 L1507.6 562.0 L1509.3 560.4 L1510.9 558.9 L1512.5 557.3 L1514.1 555.7 L1515.8 554.2 L1517.4 552.6 L1519.0 551.1 L1520.6 549.5 L1522.3 548.0 L1523.9 546.4 L1525.5 544.9 L1527.2 543.3 L1528.8 541.8 L1530.5 540.2 L1532.1 538.7 L1533.7 537.2 L1535.4 535.6 L1537.0 534.1 L1538.7 532.5 L1540.3 531.0 L1542.0 529.5 L1543.6 527.9 L1545.3 526.4 L1546.9 524.9 L1548.6 523.4 L1550.2 521.8 L1551.9 520.3 L1553.6 518.8 L1555.3 517.3 L1557.0 515.8 L1558.7 514.4 L1560.4 512.9 L1562.1 511.4 L1563.8 510.0 L1565.6 508.6 L1567.3 507.1 L1569.1 505.7 L1570.9 504.3 L1572.7 503.0 L1574.5 501.6 L1576.3 500.3 L1578.1 499.0 L1580.0 497.7 L1581.9 496.5 L1583.8 495.3 L1585.7 494.1 L1587.6 493.0 L1589.6 491.9 L1591.6 490.9 L1593.6 490.0 L1595.6 489.1 L1597.6 488.3 L1599.7 487.6 L1601.8 486.9 L1603.9 486.3 L1606.1 485.8 L1608.3 485.4 L1610.5 485.1 L1612.7 484.8 L1614.9 484.6 L1617.2 484.5 L1619.5 484.5 L1621.8 484.5 L1624.1 484.6 L1626.4 484.7 L1628.7 484.9 L1631.0 485.1 L1633.4 485.4 L1635.7 485.8 L1638.0 486.2 L1640.3 486.6 L1642.6 487.2 L1644.9 487.7 L1647.1 488.4 L1649.2 489.2 L1651.2 490.1 L1653.2 491.0 L1655.0 492.1 L1656.8 493.4 L1658.4 494.8 L1659.8 496.3 L1661.2 497.9 L1662.5 499.6 L1663.6 501.4 L1664.7 503.3 L1665.6 505.3 L1666.5 507.4 L1667.2 509.5 L1667.9 511.7 L1668.5 513.9 L1669.0 516.1 L1669.5 518.4 L1669.9 520.7 L1670.2 523.0 L1670.4 525.2 L1670.6 527.5 L1670.8 529.8 L1670.9 532.1 L1671.0 534.3 L1671.0 536.6 L1670.9 538.8 L1670.9 541.1 L1670.8 543.3 L1670.6 545.6 L1670.5 547.8 L1670.3 550.1 L1670.0 552.3 L1669.8 554.6 L1669.5 556.8 L1669.3 559.0 L1669.0 561.3 L1668.7 563.5 L1668.3 565.7 L1668.0 568.0 L1667.7 570.2 L1667.4 572.4 L1667.0 574.7 L1666.7 576.9 L1666.4 579.1 L1666.0 581.3 L1665.7 583.6 L1665.3 585.8 L1665.0 588.0 L1664.6 590.2 L1664.3 592.4 L1663.9 594.7 L1663.6 596.9 L1663.2 599.1 L1662.8 601.3 L1662.5 603.5 L1662.1 605.7 L1661.7 607.9 L1661.3 610.1 L1660.9 612.4 L1660.5 614.6 L1660.1 616.8 L1659.7 619.0 L1659.3 621.2 L1658.9 623.4 L1658.5 625.6 L1658.1 627.8 L1657.7 630.0 L1657.3 632.2 L1656.8 634.4 L1656.4 636.6 L1656.0 638.8 L1655.5 641.0 L1655.1 643.2 L1654.6 645.4 L1654.2 647.6 L1653.7 649.8 L1653.3 652.0 L1652.8 654.2 L1652.4 656.4 L1651.9 658.6 L1651.4 660.8 L1651.0 663.0 L1650.5 665.2 L1650.0 667.4 L1649.5 669.6 L1649.0 671.8 L1648.6 673.9 L1648.1 676.1 L1647.6 678.3 L1647.1 680.5 L1646.6 682.7 L1646.1 684.9 L1645.6 687.1 L1645.1 689.3 L1644.5 691.5 L1644.0 693.6 L1643.5 695.8 L1643.0 698.0 L1642.5 700.2 L1641.9 702.4 L1641.4 704.6 L1640.9 706.7 L1640.4 708.9 L1639.8 711.1 L1639.3 713.3 L1638.7 715.5 L1638.2 717.7 L1637.7 719.8 L1637.1 722.0 L1636.6 724.2 L1636.0 726.4 L1635.5 728.6 L1634.9 730.7 L1634.3 732.9 L1633.8 735.1 L1633.2 737.3 L1632.7 739.4 L1632.1 741.6 L1631.5 743.8 L1631.0 746.0 L1630.4 748.2 L1629.8 750.3 L1629.3 752.5 L1628.7 754.7 L1628.1 756.9 L1627.5 759.0 L1627.0 761.2 L1626.4 763.4 L1625.8 765.6 L1625.2 767.7 L1624.6 769.9 L1624.1 772.1 L1623.5 774.3 L1622.9 776.4 L1622.3 778.6 L1621.7 780.8 L1621.1 783.0 L1620.5 785.1 L1619.9 787.3 L1619.4 789.5 L1618.8 791.6 L1618.2 793.8 L1617.6 796.0 L1617.0 798.2 L1616.4 800.3 L1615.8 802.5 L1615.2 804.7 L1614.6 806.8 L1614.0 809.0 L1613.4 811.2 L1612.8 813.4 L1612.2 815.5 L1611.6 817.7 L1611.0 819.9 L1610.4 822.1 L1609.8 824.2 L1609.2 826.4 L1608.6 828.6 L1608.0 830.7 L1607.4 832.9 L1606.8 835.1 L1606.2 837.3 L1605.6 839.4 L1605.0 841.6 L1604.4 843.8 L1603.9 845.9 L1603.3 848.1 L1602.7 850.3 L1602.1 852.5 L1601.5 854.6 L1600.9 856.8 L1600.3 859.0 L1599.7 861.2 L1599.1 863.3 L1598.5 865.5 L1597.9 867.7 L1597.3 869.8 L1596.7 872.0 L1596.2 874.2 L1595.6 876.4 L1595.0 878.5 L1594.4 880.7 L1593.8 882.9 L1593.2 885.1 L1592.6 887.2 L1592.1 889.4 L1591.5 891.6 L1590.9 893.8 L1590.3 896.0 L1589.8 898.1 L1589.2 900.3 L1588.6 902.5 L1588.0 904.7 L1587.5 906.8 L1586.9 909.0 L1586.3 911.2 L1585.8 913.4 L1585.2 915.6 L1584.7 917.7 L1584.1 919.9 L1583.5 922.1 L1583.0 924.3 L1582.4 926.5 L1581.9 928.6 L1581.3 930.8 L1580.8 933.0 L1580.3 935.2 L1579.7 937.4 L1579.2 939.6 L1578.6 941.7 L1578.1 943.9 L1577.6 946.1 L1577.0 948.3 L1576.5 950.5 L1576.0 952.7 L1575.5 954.9 L1574.9 957.0 L1574.4 959.2 L1573.9 961.4 L1573.4 963.6 L1572.9 965.8 L1572.4 968.0 L1571.9 970.2 L1571.4 972.4 L1570.9 974.6 L1570.4 976.8 L1569.9 979.0 L1569.4 981.2 L1568.9 983.3 L1568.4 985.5 L1568.0 987.7 L1567.5 989.9 L1567.0 992.1 L1566.6 994.3 L1566.1 996.5 L1565.6 998.7 L1565.2 1000.9 L1564.7 1003.1 L1564.3 1005.3 L1563.8 1007.5 L1563.4 1009.7 L1562.9 1011.9 L1562.5 1014.1 L1562.1 1016.3 L1561.6 1018.6 L1561.2 1020.8 L1560.8 1023.0 L1560.4 1025.2 L1560.0 1027.4 L1559.5 1029.6 L1559.1 1031.8 L1558.7 1034.0 L1558.3 1036.2 L1557.9 1038.4 L1557.6 1040.7 L1557.2 1042.9 L1556.8 1045.1 L1556.4 1047.3 L1556.0 1049.5 L1555.7 1051.7 L1555.3 1054.0 L1555.0 1056.2 L1554.6 1058.4 L1554.3 1060.6 L1553.9 1062.8 L1553.6 1065.1 L1553.2 1067.3 L1552.9 1069.5 L1552.6 1071.7 L1552.3 1074.0 L1552.0 1076.2 L1551.7 1078.4 L1551.3 1080.6 L1551.0 1082.9 L1550.8 1085.1 L1550.5 1087.3 L1550.2 1089.6 L1549.9 1091.8 L1549.6 1094.0 L1549.4 1096.3 L1549.1 1098.5 L1548.8 1100.8 L1548.6 1103.0" stroke="#0f0"/>
<path d="M482.8 1455.1 L485.8 1453.2 L488.7 1451.3 L491.7 1449.4 L494.7 1447.5 L497.6 1445.6 L500.6 1443.6 L503.5 1441.7 L506.5 1439.8 L509.4 1437.9 L512.4 1435.9 L515.3 1434.0 L518.3 1432.1 L521.2 1430.1 L524.2 1428.2 L527.1 1426.2 L530.0 1424.3 L533.0 1422.3 L535.9 1420.4 L538.8 1418.4 L541.8 1416.5 L544.7 1414.5 L547.6 1412.5 L550.5 1410.6 L553.5 1408.6 L556.4 1406.6 L559.3 1404.6 L562.2 1402.7 L565.1 1400.7 L568.0 1398.7 L570.9 1396.7 L573.8 1394.7 L576.7 1392.7 L579.6 1390.7 L582.5 1388.7 L585.4 1386.7 L588.3 1384.7 L591.2 1382.7 L594.1 1380.7 L597.0 1378.7 L599.9 1376.7 L602.8 1374.7 L605.6 1372.6 L608.5 1370.6 L611.4 1368.6 L614.3 1366.6 L617.2 1364.5 L620.0 1362.5 L622.9 1360.4 L625.8 1358.4 L628.6 1356.4 L631.5 1354.3 L634.4 1352.3 L637.2 1350.2 L640.1 1348.2 L642.9 1346.1 L645.8 1344.0 L648.6 1342.0 L651.5 1339.9 L654.3 1337.9 L657.2 1335.8 L660.0 1333.7 L662.9 1331.6 L665.7 1329.6 L668.5 1327.5 L671.4 1325.4 L674.2 1323.3 L677.0 1321.2 L679.9 1319.1 L682.7 1317.0 L685.5 1314.9 L688.3 1312.9 L691.2 1310.8 L694.0 1308.6 L696.8 1306.5 L699.6 1304.4 L702.4 1302.3 L705.3 1300.2 L708.1 1298.1 L710.9 1296.0 L713.7 1293.9 L716.5 1291.7 L719.3 1289.6 L722.1 1287.5 L724.9 1285.4 L727.7 1283.2 L730.5 1281.1 L733.3 1279.0 L736.1 1276.8 L738.9 1274.7 L741.7 1272.5 L744.5 1270.4 L747.2 1268.2 L750.0 1266.1 L752.8 1263.9 L755.6 1261.8 L758.4 1259.6 L761.1 1257.5 L763.9 1255.3 L766.7 1253.2 L769.5 1251.0 L772.2 1248.8 L775.0 1246.6 L777.8 1244.5 L780.5 1242.3 L783.3 1240.1 L786.1 1237.9 L788.8 1235.8 L791.6 1233.6 L794.3 1231.4 L797.1 1229.2 L799.8 1227.0 L802.6 1224.8 L805.3 1222.6 L808.1 1220.4 L810.8 1218.2 L813.6 1216.0 L816.3 1213.8 L819.1 1211.6 L821.8 1209.4 L824.6 1207.2 L827.3 1205.0 L830.0 1202.8 L832.8 1200.6 L835.5 1198.4 L838.2 1196.1 L840.9 1193.9 L843.7 1191.7 L846.4 1189.5 L849.1 1187.3 L851.8 1185.0 L854.6 1182.8 L857.3 1180.6 L860.0 1178.3 L862.7 1176.1 L865.4 1173.8 L868.2 1171.6 L870.9 1169.4 L873.6 1167.1 L876.3 1164.9 L879.0 1162.6 L881.7 1160.4 L884.4 1158.1 L887.1 1155.9 L889.8 1153.6 L892.5 1151.4 L895.2 1149.1 L897.9 1146.8 L900.6 1144.6 L903.3 1142.3 L906.0 1140.0 L908.7 1137.8 L911.4 1135.5 L914.0 1133.2 L916.7 1131.0 L919.4 1128.7 L922.1 1126.4 L924.8 1124.1 L927.5 1121.9 L930.1 1119.6 L932.8 1117.3 L935.5 1115.0 L938.2 1112.7 L940.9 1110.4 L943.5 1108.1 L946.2 1105.8 L948.9 1103.5 L951.5 1101.3 L954.2 1099.0 L956.9 1096.7 L959.5 1094.4 L962.2 1092.1 L964.9 1089.7 L967.5 1087.4 L970.2 1085.1 L972.8 1082.8 L975.5 1080.5 L978.1 1078.2 L980.8 1075.9 L983.4 1073.6 L986.1 1071.3 L988.7 1068.9 L991.4 1066.6 L994.0 1064.3 L996.7 1062.0 L999.3 1059.7 L1002.0 1057.3 L1004.6 1055.0 L1007.3 1052.7 L1009.9 1050.3 L1012.5 1048.0 L1015.2 1045.7 L1017.8 1043.3 L1020.4 1041.0 L1023.1 1038.7 L1025.7 1036.3 L1028.3 1034.0 L1031.0 1031.7 L1033.6 1029.3 L1036.2 1027.0 L1038.9 1024.6 L1041.5 1022.3 L1044.1 1019.9 L1046.7 1017.6 L1049.3 1015.2 L1052.0 1012.9 L1054.6 1010.5 L1057.2 1008.2 L1059.8 1005.8 L1062.4 1003.4 L1065.1 1001.1 L1067.7 998.7 L1070.3 996.4 L1072.9 994.0 L1075.5 991.6 L1078.1 989.3 L1080.7 986.9 L1083.3 984.5 L1085.9 982.2 L1088.5 979.8 L1091.1 977.4 L1093.7 975.1 L1096.3 972.7 L1098.9 970.3 L1101.5 967.9 L1104.1 965.6 L1106.7 963.2 L1109.3 960.8 L1111.9 958.4 L1114.5 956.0 L1117.1 953.7 L1119.7 951.3 L1122.3 948.9 L1124.9 946.5 L1127.5 944.1 L1130.1 941.7 L1132.6 939.3 L1135.2 936.9 L1137.8 934.6 L1140.4 932.2 L1143.0 929.8 L1145.6 927.4 L1148.2 925.0 L1150.7 922.6 L1153.3 920.2 L1155.9 917.8 L1158.5 915.4 L1161.0 913.0 L1163.6 910.6 L1166.2 908.2 L1168.8 905.8 L1171.3 903.4 L1173.9 901.0 L1176.5 898.6 L1179.1 896.2 L1181.6 893.8 L1184.2 891.3 L1186.8 888.9 L1189.3 886.5 L1191.9 884.1 L1194.5 881.7 L1197.0 879.3 L1199.6 876.9 L1202.2 874.5 L1204.7 872.1 L1207.3 869.7 L1209.9 867.2 L1212.4 864.8 L1215.0 862.4 L1217.5 860.0 L1220.1 857.6 L1222.7 855.2 L1225.2 852.8 L1227.8 850.3 L1230.3 847.9 L1232.9 845.5 L1235.5 843.1 L1238.0 840.7 L1240.6 838.3 L1243.1 835.8 L1245.7 833.4 L1248.3 831.0 L1250.8 828.6 L1253.4 826.2 L1255.9 823.8 L1258.5 821.3 L1261.1 818.9 L1263.6 816.5 L1266.2 814.1 L1268.7 811.7 L1271.3 809.3 L1273.9 806.8 L1276.4 804.4 L1279.0 802.0 L1281.5 799.6 L1284.1 797.2 L1286.7 794.8 L1289.2 792.4 L1291.8 789.9 L1294.4 787.5 L1296.9 785.1 L1299.5 782.7 L1302.0 780.3 L1304.6 777.9 L1307.2 775.5 L1309.7 773.1 L1312.3 770.7 L1314.9 768.2 L1317.4 765.8 L1320.0 763.4 L1322.6 761.0 L1325.1 758.6 L1327.7 756.2 L1330.3 753.8 L1332.8 751.4 L1335.4 749.0 L1338.0 746.6 L1340.6 744.2 L1343.1 741.8 L1345.7 739.4 L1348.3 737.0 L1350.9 734.6 L1353.4 732.2 L1356.0 729.8 L1358.6 727.4 L1361.2 725.0 L1363.8 722.6 L1366.3 720.2 L1368.9 717.9 L1371.5 715.5 L1374.1 713.1 L1376.7 710.7 L1379.3 708.3 L1381.8 705.9 L1384.4 703.5 L1387.0 701.2 L1389.6 698.8 L1392.2 696.4 L1394.8 694.0 L1397.4 691.7 L1400.0 689.3 L1402.6 686.9 L1405.2 684.5 L1407.8 682.2 L1410.4 679.8 L1413.0 677.4 L1415.6 675.1 L1418.2 672.7 L1420.8 670.3 L1423.4 668.0 L1426.0 665.6 L1428.7 663.3 L1431.3 660.9 L1433.9 658.6 L1436.5 656.2 L1439.1 653.9 L1441.7 651.5 L1444.4 649.2 L1447.0 646.8 L1449.6 644.5 L1452.2 642.2 L1454.9 639.8 L1457.5 637.5 L1460.1 635.2 L1462.8 632.8 L1465.4 630.5 L1468.0 628.2 L1470.7 625.9 L1473.3 623.5 L1476.0 621.2 L1478.6 618.9 L1481.3 616.6 L1483.9 614.3 L1486.6 612.0 L1489.2 609.6 L1491.9 607.3 L1494.6 605.0 L1497.2 602.7 L1499.9 600.5 L1502.6 598.2 L1505.2 595.9 L1507.9 593.6 L1510.6 591.3 L1513.3 589.0 L1516.0 586.8 L1518.7 584.5 L1521.4 582.3 L1524.1 580.0 L1526.8 577.8 L1529.5 575.5 L1532.3 573.3 L1535.0 571.1 L1537.8 568.9 L1540.5 566.7 L1543.3 564.5 L1546.1 562.3 L1548.9 560.1 L1551.7 558.0 L1554.5 555.9 L1557.4 553.8 L1560.3 551.8 L1563.2 550.0 L1566.2 548.2 L1569.3 546.5 L1572.4 544.9 L1575.6 543.4 L1578.8 542.1 L1582.1 540.9 L1585.4 539.9 L1588.8 538.9 L1592.2 538.1 L1595.7 537.5 L1599.2 537.0 L1602.7 536.6 L1606.2 536.4 L1609.8 536.4 L1613.4 536.5 L1616.9 536.8 L1620.5 537.2 L1624.0 537.8 L1627.5 538.6 L1630.9 539.6 L1634.2 540.7 L1637.4 542.0 L1640.6 543.5 L1643.7 545.2 L1646.6 547.1 L1649.4 549.2 L1652.0 551.5 L1654.5 554.0 L1656.9 556.6 L1659.0 559.4 L1660.9 562.3 L1662.6 565.4 L1664.0 568.5 L1665.3 571.8 L1666.4 575.2 L1667.3 578.6 L1668.1 582.0 L1668.8 585.5 L1669.3 589.0 L1669.9 592.5 L1670.3 596.0 L1670.7 599.5 L1671.0 603.0 L1671.2 606.5 L1671.3 610.0 L1671.4 613.5 L1671.5 617.0 L1671.5 620.5 L1671.4 624.0 L1671.3 627.6 L1671.1 631.1 L1670.9 634.6 L1670.6 638.1 L1670.3 641.6 L1670.0 645.1 L1669.6 648.6 L1669.2 652.1 L1668.7 655.6 L1668.2 659.1 L1667.7 662.7 L1667.2 666.2 L1666.7 669.7 L1666.1 673.2 L1665.5 676.7 L1664.9 680.2 L1664.3 683.7 L1663.7 687.2 L1663.1 690.7 L1662.5 694.2 L1661.8 697.7 L1661.2 701.2 L1660.6 704.6 L1660.0 708.1 L1659.4 711.6 L1658.8 715.1 L1658.2 718.6 L1657.6 722.0 L1657.0 725.5 L1656.4 729.0 L1655.8 732.5 L1655.2 735.9 L1654.6 739.4 L1654.0 742.9 L1653.5 746.3 L1652.9 749.8 L1652.3 753.2 L1651.7 756.7 L1651.2 760.1 L1650.6 763.6 L1650.0 767.1 L1649.5 770.5 L1648.9 774.0 L1648.3 777.4 L1647.8 780.9 L1647.2 784.3 L1646.6 787.8 L1646.1 791.2 L1645.5 794.7 L1645.0 798.1 L1644.4 801.6 L1643.8 805.0 L1643.3 808.5 L1642.7 811.9 L1642.1 815.4 L1641.6 818.8 L1641.0 822.3 L1640.4 825.7 L1639.9 829.2 L1639.3 832.6 L1638.7 836.1 L1638.1 839.5 L1637.5 843.0 L1637.0 846.5 L1636.4 849.9 L1635.8 853.4 L1635.2 856.8 L1634.6 860.3 L1634.0 863.8 L1633.4 867.2 L1632.8 870.7 L1632.2 874.2 L1631.6 877.6 L1631.0 881.1 L1630.4 884.6 L1629.8 888.0 L1629.2 891.5 L1628.6 895.0 L1628.0 898.5 L1627.3 901.9 L1626.7 905.4 L1626.1 908.9 L1625.5 912.4 L1624.9 915.8 L1624.3 919.3 L1623.7 922.8 L1623.1 926.3 L1622.5 929.8 L1621.9 933.3 L1621.4 936.7 L1620.8 940.2 L1620.2 943.7 L1619.6 947.2 L1619.0 950.7 L1618.5 954.2 L1617.9 957.7 L1617.3 961.2 L1616.8 964.7 L1616.2 968.2 L1615.7 971.6 L1615.1 975.1 L1614.6 978.6 L1614.1 982.1 L1613.6 985.6 L1613.0 989.1 L1612.5 992.6 L1612.0 996.1 L1611.5 999.6 L1611.1 1003.1 L1610.6 1006.6 L1610.1 1010.1 L1609.6 1013.6 L1609.2 1017.1 L1608.7 1020.6 L1608.3 1024.1 L1607.9 1027.6 L1607.5 1031.1 L1607.1 1034.6 L1606.7 1038.1 L1606.3 1041.7 L1605.9 1045.2 L1605.5 1048.7 L1605.2 1052.2 L1604.8 1055.7 L1604.5 1059.2 L1604.2 1062.7 L1603.9 1066.2 L1603.6 1069.7 L1603.3 1073.2 L1603.0 1076.7 L1602.7 1080.2 L1602.5 1083.7 L1602.3 1087.2 L1602.1 1090.8 L1601.8 1094.3 L1601.7 1097.8 L1601.5 1101.3 L1601.3 1104.8 L1601.2 1108.3 L1601.0 1111.8 L1600.9 1115.3 L1600.8 1118.8 L1600.7 1122.3 L1600.7 1125.8 L1600.6 1129.4 L1600.6 1132.9 L1600.6 1136.4 L1600.6 1139.9 L1600.6 1143.4 L1600.6 1146.9 L1600.7 1150.4 L1600.7 1153.9 L1600.8 1157.4 L1600.9 1160.9 L1601.1 1164.4 L1601.2 1168.0 L1601.4 1171.5 L1601.6 1175.0 L1601.8 1178.5 L1602.0 1182.0 L1602.2 1185.5 L1602.5 1189.0 L1602.8 1192.5 L1603.1 1196.0 L1603.4 1199.5 L1603.8 1203.0 L1604.2 1206.5 L1604.5 1210.0 L1605.0 1213.5 L1605.4 1217.0 L1605.9 1220.5 L1606.4 1224.0 L1606.9 1227.5 L1607.4 1230.9 L1608.0 1234.4 L1608.6 1237.9 L1609.2 1241.3 L1609.9 1244.8 L1610.5 1248.2 L1611.2 1251.7 L1612.0 1255.1 L1612.7 1258.5 L1613.5 1262.0 L1614.3 1265.4 L1615.2 1268.8 L1616.1 1272.2 L1617.0 1275.5 L1617.9 1278.9 L1618.9 1282.3 L1619.9 1285.6 L1620.9 1289.0 L1622.0 1292.3 L1623.1 1295.6 L1624.2 1298.9 L1625.4 1302.2 L1626.6 1305.5 L1627.8 1308.7 L1629.1 1312.0 L1630.4 1315.2 L1631.8 1318.4 L1633.1 1321.6 L1634.6 1324.8 L1636.0 1328.0 L1637.5 1331.2 L1639.0 1334.3 L1640.6 1337.4 L1642.2 1340.5 L1643.9 1343.6 L1645.6 1346.7 L1647.3 1349.7 L1649.1 1352.7 L1650.9 1355.8 L1652.7 1358.7 L1654.6 1361.7 L1656.6 1364.7 L1658.5 1367.6 L1660.6 1370.5 L1662.6 1373.4 L1664.7 1376.2 L1666.9 1379.1 L1669.1 1381.9 L1671.3 1384.7 L1673.6 1387.5 L1675.9 1390.2 L1678.3 1392.9 L1680.7 1395.6 L1683.1 1398.3 L1685.5 1401.0 L1688.0 1403.7 L1690.4 1406.3 L1692.9 1408.9 L1695.4 1411.6 L1697.9 1414.2 L1700.4 1416.8 L1702.9 1419.4 L1705.4 1421.9 L1707.9 1424.5 L1710.4 1427.1 L1712.8 1429.6 L1715.3 1432.2 L1717.7 1434.8 L1720.1 1437.3 L1722.5 1439.9 L1724.9 1442.4 L1727.2 1445.0 L1729.4 1447.5 L1731.7 1450.1 L1733.9 1452.6 L1736.0 1455.2" stroke="#00f"/>
</g>
<path d="M397.4 1548.3 V1529.3 M397.4 17.5 V34.7 M502.8 1548.3 V1515.5 M502.8 17.5 V49.2 M608.2 1548.3 V1529.3 M608.2 17.5 V34.7 M713.6 1548.3 V1515.5 M713.6 17.5 V49.2 M819.0 1548.3 V1529.3 M819.0 17.5 V34.7 M924.4 1548.3 V1515.5 M924.4 17.5 V49.2 M1029.8 1548.3 V1529.3 M1029.8 17.5 V34.7 M1135.2 1548.3 V1515.5 M1135.2 17.5 V49.2 M1240.6 1548.3 V1529.3 M1240.6 17.5 V34.7 M1346.0 1548.3 V1515.5 M1346.0 17.5 V49.2 M1451.4 1548.3 V1529.3 M1451.4 17.5 V34.7 M1556.8 1548.3 V1515.5 M1556.8 17.5 V49.2 M1662.1 1548.3 V1529.3 M1662.1 17.5 V34.7 M1767.5 1548.3 V1515.5 M1767.5 17.5 V49.2 M1872.9 1548.3 V1529.3 M1872.9 17.5 V34.7 M1978.3 1548.3 V1515.5 M1978.3 17.5 V49.2 M2083.7 1548.3 V1529.3 M2083.7 17.5 V34.7 M292.1 1447.6 H310.9 M292.1 1346.9 H324.9 M292.1 1246.2 H310.9 M292.1 1145.4 H324.9 M292.1 1044.7 H310.9 M292.1 944.0 H324.9 M292.1 843.3 H310.9 M292.1 742.6 H324.9 M292.1 641.9 H310.9 M292.1 541.2 H324.9 M292.1 440.4 H310.9 M292.1 339.7 H324.9 M292.1 239.0 H310.9 M292.1 138.3 H324.9 M292.1 37.6 H310.9 M2189.1 1346.9 H2157.4 M2189.1 1145.4 H2173.0 M2189.1 944.0 H2157.4 M2189.1 742.6 H2173.0 M2189.1 541.2 H2157.4 M2189.1 339.7 H2173.0 M2189.1 138.3 H2157.4" stroke="#000" stroke-width="5" fill="none"/>
<rect x="292.1" y="17.6" width="1897.0" height="1530.7" fill="none" stroke="#000" stroke-width="5.5"/>
<text transform="matrix(1,0,0,1.04,292.1,1632)" text-anchor="middle" font-family="'Liberation Sans', Arial, 'Noto Sans CJK SC', sans-serif" font-size="65">0.2</text>
<text transform="matrix(1,0,0,1.04,502.8,1632)" text-anchor="middle" font-family="'Liberation Sans', Arial, 'Noto Sans CJK SC', sans-serif" font-size="65">0.4</text>
<text transform="matrix(1,0,0,1.04,713.6,1632)" text-anchor="middle" font-family="'Liberation Sans', Arial, 'Noto Sans CJK SC', sans-serif" font-size="65">0.6</text>
<text transform="matrix(1,0,0,1.04,924.4,1632)" text-anchor="middle" font-family="'Liberation Sans', Arial, 'Noto Sans CJK SC', sans-serif" font-size="65">0.8</text>
<text transform="matrix(1,0,0,1.04,1135.2,1632)" text-anchor="middle" font-family="'Liberation Sans', Arial, 'Noto Sans CJK SC', sans-serif" font-size="65">1.0</text>
<text transform="matrix(1,0,0,1.04,1346.0,1632)" text-anchor="middle" font-family="'Liberation Sans', Arial, 'Noto Sans CJK SC', sans-serif" font-size="65">1.2</text>
<text transform="matrix(1,0,0,1.04,1556.8,1632)" text-anchor="middle" font-family="'Liberation Sans', Arial, 'Noto Sans CJK SC', sans-serif" font-size="65">1.4</text>
<text transform="matrix(1,0,0,1.04,1767.5,1632)" text-anchor="middle" font-family="'Liberation Sans', Arial, 'Noto Sans CJK SC', sans-serif" font-size="65">1.6</text>
<text transform="matrix(1,0,0,1.04,1978.3,1632)" text-anchor="middle" font-family="'Liberation Sans', Arial, 'Noto Sans CJK SC', sans-serif" font-size="65">1.8</text>
<text transform="matrix(1,0,0,1.04,2189.1,1632)" text-anchor="middle" font-family="'Liberation Sans', Arial, 'Noto Sans CJK SC', sans-serif" font-size="65">2.0</text>
<text transform="matrix(1,0,0,1.04,259.2,1564.8)" text-anchor="end" font-family="'Liberation Sans', Arial, 'Noto Sans CJK SC', sans-serif" font-size="65">-150</text>
<text transform="matrix(1,0,0,1.04,259.2,1363.4)" text-anchor="end" font-family="'Liberation Sans', Arial, 'Noto Sans CJK SC', sans-serif" font-size="65">-100</text>
<text transform="matrix(1,0,0,1.04,259.2,1161.9)" text-anchor="end" font-family="'Liberation Sans', Arial, 'Noto Sans CJK SC', sans-serif" font-size="65">-50</text>
<text transform="matrix(1,0,0,1.04,259.2,960.5)" text-anchor="end" font-family="'Liberation Sans', Arial, 'Noto Sans CJK SC', sans-serif" font-size="65">0</text>
<text transform="matrix(1,0,0,1.04,259.2,759.1)" text-anchor="end" font-family="'Liberation Sans', Arial, 'Noto Sans CJK SC', sans-serif" font-size="65">50</text>
<text transform="matrix(1,0,0,1.04,259.2,557.7)" text-anchor="end" font-family="'Liberation Sans', Arial, 'Noto Sans CJK SC', sans-serif" font-size="65">100</text>
<text transform="matrix(1,0,0,1.04,259.2,356.2)" text-anchor="end" font-family="'Liberation Sans', Arial, 'Noto Sans CJK SC', sans-serif" font-size="65">150</text>
<text transform="matrix(1,0,0,1.04,259.2,154.8)" text-anchor="end" font-family="'Liberation Sans', Arial, 'Noto Sans CJK SC', sans-serif" font-size="65">200</text>
<text transform="matrix(1,0,0,1.04,937.4,1770)" font-family="'Liberation Sans', Arial, 'Noto Sans CJK SC', sans-serif" font-size="78.9">Entropy (kJ/kg&#183;K)</text>
<text transform="translate(80.2,1139.6) rotate(-90) scale(1.023,1.04)" font-family="'Liberation Sans', Arial, 'Noto Sans CJK SC', sans-serif" font-size="78.9">Temperature (<tspan dx="6.7" font-family="'Noto Sans CJK SC', sans-serif" font-weight="300" font-size="68">&#8451;</tspan><tspan dx="7.2">)</tspan></text>
<rect x="402.9" y="124.9" width="450.6" height="365.8" fill="none" stroke="#000" stroke-width="2.5"/>
<path d="M409.9 175.0 H576.1" stroke="#000" stroke-width="5.5"/>
<text transform="matrix(1,0,0,1.03,591.8,197.5)" font-family="'Liberation Sans', Arial, 'Noto Sans CJK SC', sans-serif" font-size="71">R113</text>
<path d="M409.9 262.8 H576.1" stroke="#f00" stroke-width="5.5"/>
<text transform="matrix(1,0,0,1.03,591.8,285.5)" font-family="'Liberation Sans', Arial, 'Noto Sans CJK SC', sans-serif" font-size="71">R245ca</text>
<path d="M409.9 352.5 H576.1" stroke="#0f0" stroke-width="5.5"/>
<text transform="matrix(1,0,0,1.03,591.8,374.5)" font-family="'Liberation Sans', Arial, 'Noto Sans CJK SC', sans-serif" font-size="71">Rc318</text>
<path d="M409.9 440.8 H576.1" stroke="#00f" stroke-width="5.5"/>
<text transform="matrix(1,0,0,1.03,591.8,463.5)" font-family="'Liberation Sans', Arial, 'Noto Sans CJK SC', sans-serif" font-size="71">R227ea</text>
</svg></body></html>
